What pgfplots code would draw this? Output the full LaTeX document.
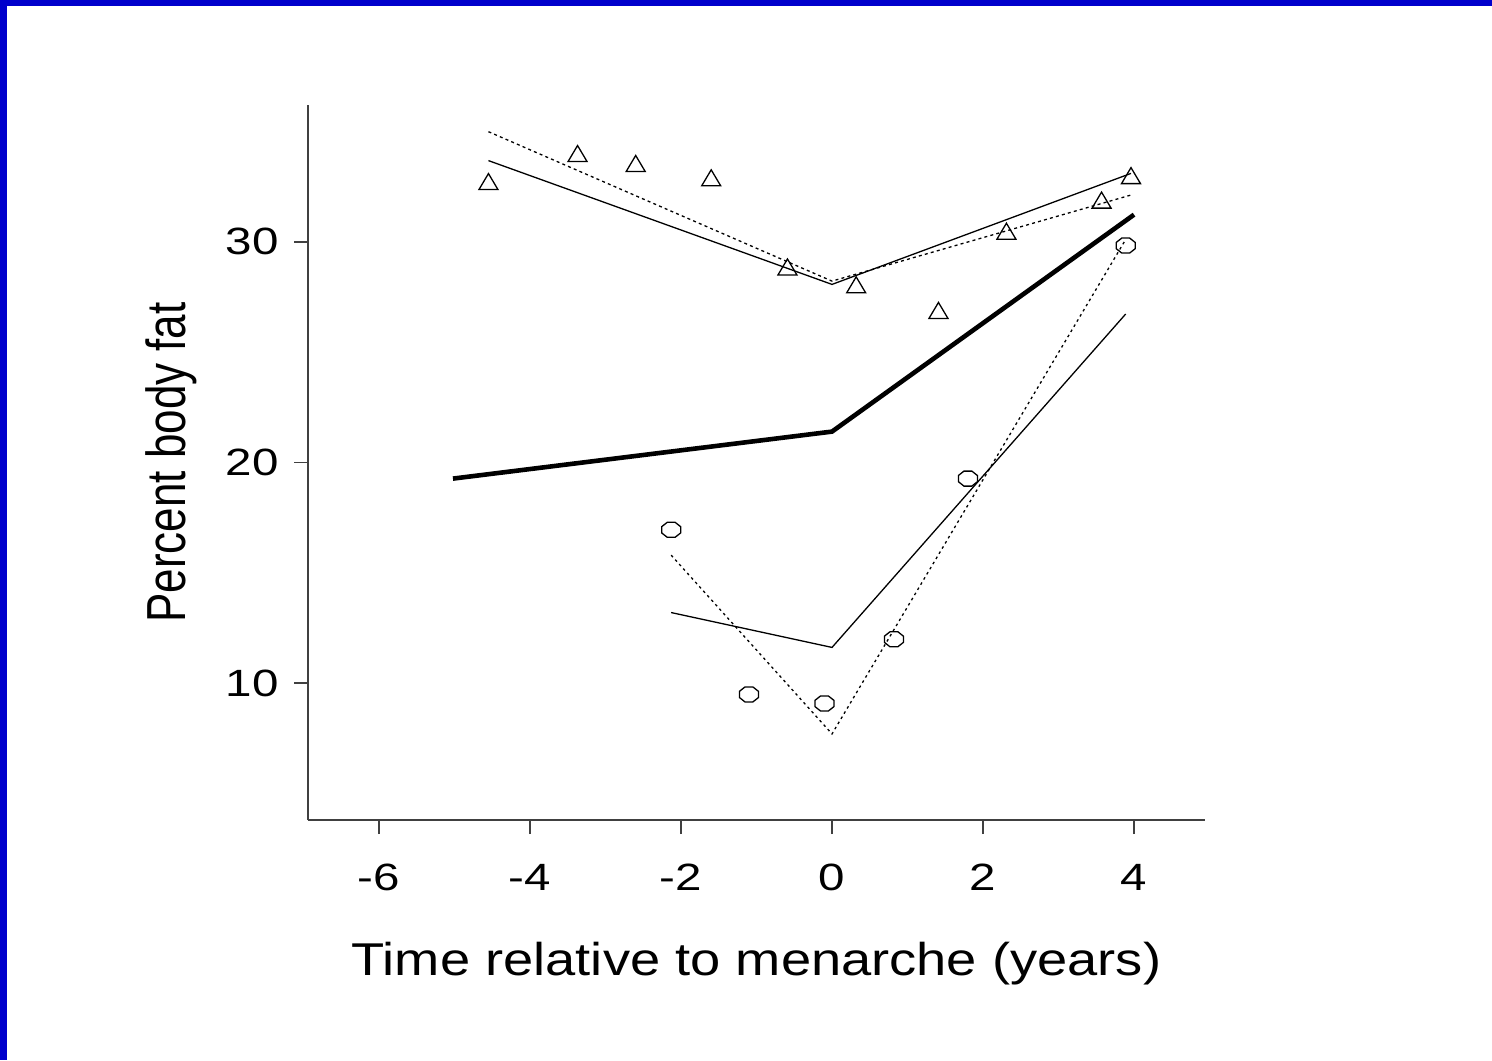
\documentclass[border=0pt]{standalone}
\usepackage{fontspec}
\setmainfont{Liberation Sans}
\newfontfamily\tickfont[FakeStretch=1.25]{Liberation Sans}
\newfontfamily\xlfont[FakeStretch=1.18]{Liberation Sans}
\newfontfamily\ylfont[FakeStretch=0.8]{Liberation Sans}
\usepackage{pgfplots}
\pgfplotsset{compat=1.18}
\definecolor{frameblue}{HTML}{0000CC}
\pgfdeclareplotmark{rtri}{%
  \pgfpathmoveto{\pgfqpoint{0pt}{4pt}}%
  \pgfpathlineto{\pgfqpoint{4.75pt}{-4pt}}%
  \pgfpathlineto{\pgfqpoint{-4.75pt}{-4pt}}%
  \pgfpathclose\pgfusepathqstroke}
\pgfdeclareplotmark{roct}{%
  \pgfpathmoveto{\pgfqpoint{4.75pt}{1.55pt}}%
  \pgfpathlineto{\pgfqpoint{1.97pt}{3.75pt}}%
  \pgfpathlineto{\pgfqpoint{-1.97pt}{3.75pt}}%
  \pgfpathlineto{\pgfqpoint{-4.75pt}{1.55pt}}%
  \pgfpathlineto{\pgfqpoint{-4.75pt}{-1.55pt}}%
  \pgfpathlineto{\pgfqpoint{-1.97pt}{-3.75pt}}%
  \pgfpathlineto{\pgfqpoint{1.97pt}{-3.75pt}}%
  \pgfpathlineto{\pgfqpoint{4.75pt}{-1.55pt}}%
  \pgfpathclose\pgfusepathqstroke}
\begin{document}
\begin{tikzpicture}
\fill[white] (0,0) rectangle (746pt,530pt);
\path[use as bounding box] (0,0) rectangle (746pt,530pt);
\fill[frameblue] (0,527pt) rectangle (746pt,530pt);
\fill[frameblue] (0,0) rectangle (3.4pt,530pt);
\begin{axis}[
  at={(154pt,120pt)}, anchor=south west,
  width=448.5pt, height=357.5pt, scale only axis,
  xmin=-6.94, xmax=4.94, ymin=3.8, ymax=36.2,
  axis lines*=left,
  axis line style={black!75, line width=0.7pt},
  tick align=outside,
  major tick length=7pt,
  tick style={black!75, line width=0.7pt},
  xtick={-6,-4,-2,0,2,4}, xticklabels={-6,-4,-2,0,2,4},
  ytick={10,20,30}, yticklabels={10,20,30},
  minor tick num=0,
  xticklabel style={font=\tickfont\fontsize{19pt}{19pt}\selectfont, anchor=north, inner sep=0pt, yshift=-15pt},
  yticklabel style={font=\tickfont\fontsize{19pt}{19pt}\selectfont, anchor=east, inner sep=0pt, xshift=-7.5pt},
  xlabel={Time relative to menarche (years)},
  ylabel={Percent body fat},
  xlabel style={font=\xlfont\fontsize{23pt}{23pt}\selectfont, at={(axis description cs:0.5,-0.2168)}, anchor=base, inner sep=0pt},
  ylabel style={font=\ylfont\fontsize{27.5pt}{27.5pt}\selectfont, at={(axis description cs:-0.1371,0.5)}, anchor=base, inner sep=0pt},
  clip=false,
]
% triangles (upper group)
\addplot[only marks, mark=rtri, mark options={line width=0.65pt, black}] coordinates {
  (-4.55,32.73) (-3.37,34.0) (-2.60,33.55) (-1.60,32.9) (-0.59,28.86)
  (0.32,28.05) (1.41,26.89) (2.31,30.48) (3.57,31.89) (3.96,33.0)};
\addplot[black, line width=0.65pt] coordinates {(-4.55,33.68) (0,28.07) (3.96,33.1)};
\addplot[black, line width=0.65pt, dash pattern=on 1.5pt off 1.6pt] coordinates {(-4.55,34.99) (0,28.22) (3.96,32.12)};
% overall thick line
\addplot[black, line width=2.3pt] coordinates {(-5.02,19.27) (0,21.40) (4.0,31.23)};
% octagons (lower group)
\addplot[only marks, mark=roct, mark options={line width=0.65pt, black}] coordinates {
  (-2.13,16.95) (-1.10,9.49) (-0.10,9.08) (0.82,11.99) (1.80,19.27) (3.89,29.83)};
\addplot[black, line width=0.65pt] coordinates {(-2.13,13.2) (0,11.62) (3.89,26.73)};
\addplot[black, line width=0.65pt, dash pattern=on 1.3pt off 1.7pt] coordinates {(-2.13,15.8) (0,7.70) (3.88,30.05)};
\end{axis}
\end{tikzpicture}
\end{document}
